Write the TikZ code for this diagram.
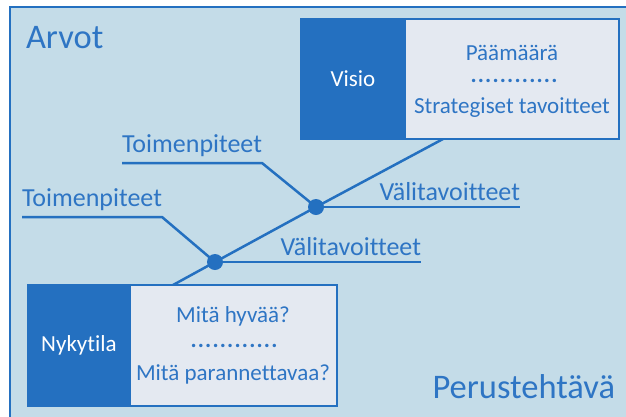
\documentclass[tikz,border=0pt]{standalone}
\usepackage{fontspec}
\setmainfont{Carlito}[Ligatures=NoCommon]
\usepackage{tikz}
\usetikzlibrary{positioning}

\definecolor{tausta}{RGB}{196,220,232}
\definecolor{sininen}{RGB}{36,112,192}
\definecolor{vaalea}{RGB}{228,233,241}
\definecolor{teksti}{RGB}{46,117,196}
\newcommand{\pisterivi}{\bfseries.\foreach \p in {2,...,12}{\kern1.2pt.}}

\begin{document}
\begin{tikzpicture}[x=1pt, y=-1pt, every node/.style={font=\fontsize{23}{27}\selectfont, outer sep=0pt}]
        \tikzset{tummalaatikko/.style={fill=sininen, draw=sininen, line width=2.5pt, text=white, minimum height=120pt, inner sep=0pt}}
        \tikzset{vaalealaatikko/.style={fill=vaalea, draw=sininen, line width=2.5pt, minimum height=120pt, inner sep=0pt}}
        \tikzset{laatikkoteksti/.style={text=teksti, anchor=base, inner sep=0pt}}
        \tikzset{nimio/.style={text=teksti, font=\fontsize{26}{30}\selectfont, inner xsep=0pt, inner ysep=6pt, anchor=south east}}
        \tikzset{otsikko/.style={text=teksti, font=\fontsize{34.5}{40}\selectfont, inner sep=0pt, anchor=base west}}
        \tikzset{viiva/.style={draw=sininen, line width=2.5pt}}
        \tikzset{solmu/.style={circle, fill=sininen, minimum size=16pt, inner sep=0pt}}
        \clip (0,0) rectangle (626,416);
        \fill[white] (0,0) rectangle (626,416);
        \draw[fill=tausta, draw=sininen, line width=2.5pt] (10,7) rectangle (640,430);
        % otsikot
        \node (arvot) [otsikko] at (26,48) {Arvot};
        \node (perustehtava) [otsikko, anchor=base east] at (615,398) {Perustehtävä};
        % pisteet ja viivat
        \node (piste1) [solmu] at (215,262) {};
        \node (piste2) [solmu] at (316,207) {};
        \coordinate (alku) at (173,285);
        \coordinate (loppu) at (443,139);
        \draw[viiva] (alku) -- (piste1.center) -- (piste2.center) -- (loppu);
        \node (toimenpide1) [nimio] at (162,217) {Toimenpiteet};
        \node (toimenpide2) [nimio] at (262,163) {Toimenpiteet};
        \node (vali1) [nimio] at (421,262) {Välitavoitteet};
        \node (vali2) [nimio] at (520,207) {Välitavoitteet};
        \draw[viiva] (piste1.center) -- (toimenpide1.south east) -- (toimenpide1.south west);
        \draw[viiva] (piste2.center) -- (toimenpide2.south east) -- (toimenpide2.south west);
        \draw[viiva] (piste1.center) -- (vali1.south east);
        \draw[viiva] (piste2.center) -- (vali2.south east);
        % visio
        \node (visio) [tummalaatikko, minimum width=104pt] at (353,79) {Visio};
        \node (visioteksti) [vaalealaatikko, minimum width=214pt, right=0pt of visio] {};
        \node (paamaara) [laatikkoteksti] at (512,60) {Päämäärä};
        \node (pisteet1) [laatikkoteksti] at (514,82) {\pisterivi};
        \node (strategia) [laatikkoteksti] at (512,113) {Strategiset tavoitteet};
        % nykytila
        \node (nykytila) [tummalaatikko, minimum width=102pt, minimum height=121pt] at (79,345.5) {Nykytila};
        \node (nykyteksti) [vaalealaatikko, minimum width=207pt, minimum height=121pt, right=0pt of nykytila] {};
        \node (hyvaa) [laatikkoteksti] at (233,322) {Mitä hyvää?};
        \node (pisteet2) [laatikkoteksti] at (234,347) {\pisterivi};
        \node (parannettavaa) [laatikkoteksti] at (233,380) {Mitä parannettavaa?};
      \end{tikzpicture}
\end{document}
